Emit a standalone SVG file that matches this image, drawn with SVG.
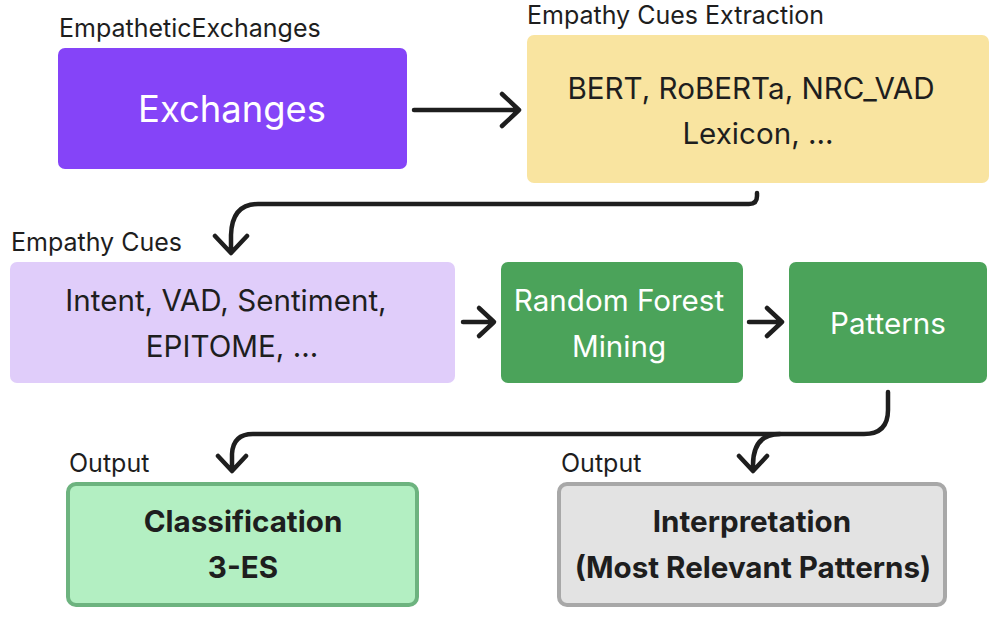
<svg xmlns="http://www.w3.org/2000/svg" width="996" height="620" viewBox="0 0 996 620">
<style>
text{font-family:Inter,"Noto Sans","Liberation Sans",sans-serif;}
.lbl{font-size:25px;fill:#1e1e1e;}
.t{font-size:29.6px;text-anchor:middle;fill:#1e1e1e;}
.w{fill:#ffffff;}
.b{font-weight:bold;}
.c{fill:none;stroke:#1e1e1e;stroke-width:4.5;stroke-linecap:round;stroke-linejoin:round;}
</style>
<rect width="996" height="620" fill="#ffffff"/>
<g id="exchanges">
<text class="lbl" x="59" y="37">EmpatheticExchanges</text>
<rect x="58" y="48" width="349" height="121" rx="7" fill="#8544f8"/>
<text class="t w" x="232" y="122" style="font-size:36.4px">Exchanges</text>
</g>
<g id="extraction">
<text class="lbl" x="527" y="24">Empathy Cues Extraction</text>
<rect x="527" y="35" width="462" height="148" rx="7" fill="#f9e4a0"/>
<text class="t" x="751" y="99">BERT, RoBERTa, NRC_VAD</text>
<text class="t" x="758" y="144">Lexicon, ...</text>
</g>
<g id="cues">
<text class="lbl" x="11" y="251">Empathy Cues</text>
<rect x="10" y="262" width="445" height="121" rx="7" fill="#e0cdfa"/>
<text class="t" x="226" y="311">Intent, VAD, Sentiment,</text>
<text class="t" x="232" y="357">EPITOME, ...</text>
</g>
<g id="rf">
<rect x="501" y="262" width="242" height="121" rx="7" fill="#4ba35a"/>
<text class="t w" x="619" y="311">Random Forest</text>
<text class="t w" x="619" y="357">Mining</text>
</g>
<g id="patterns">
<rect x="789" y="262" width="198" height="121" rx="7" fill="#4ba35a"/>
<text class="t w" x="888" y="334">Patterns</text>
</g>
<g id="classification">
<text class="lbl" x="69" y="472">Output</text>
<rect x="68" y="484" width="349" height="121" rx="8" fill="#b3efc2" stroke="#6db37f" stroke-width="4"/>
<text class="t b" x="243" y="532">Classification</text>
<text class="t b" x="243" y="578">3-ES</text>
</g>
<g id="interpretation">
<text class="lbl" x="561" y="472">Output</text>
<rect x="559" y="484" width="386" height="121" rx="8" fill="#e3e3e3" stroke="#a8a8a8" stroke-width="4"/>
<text class="t b" x="752" y="532">Interpretation</text>
<text class="t b" x="753" y="578">(Most Relevant Patterns)</text>
</g>
<g id="connectors">
<path class="c" d="M414 110 H518 M502 94 L519 110 L502 126"/>
<path class="c" d="M757 193 V196 Q757 204 749 204 H258 Q232 204 231 235 V252 M215 236 L231 253 L247 236"/>
<path class="c" d="M463 322 H493 M479 308 L494 322 L479 336"/>
<path class="c" d="M749 322 H781 M767 308 L782 322 L767 336"/>
<path class="c" d="M888 392 V410 Q888 434 864 434 H253 Q233 434 232 454 V470 M218 456 L232 471 L246 456"/>
<path class="c" d="M780 434 Q753 434 753 465 V470 M739 456 L753 471 L767 456"/>
</g>
</svg>
